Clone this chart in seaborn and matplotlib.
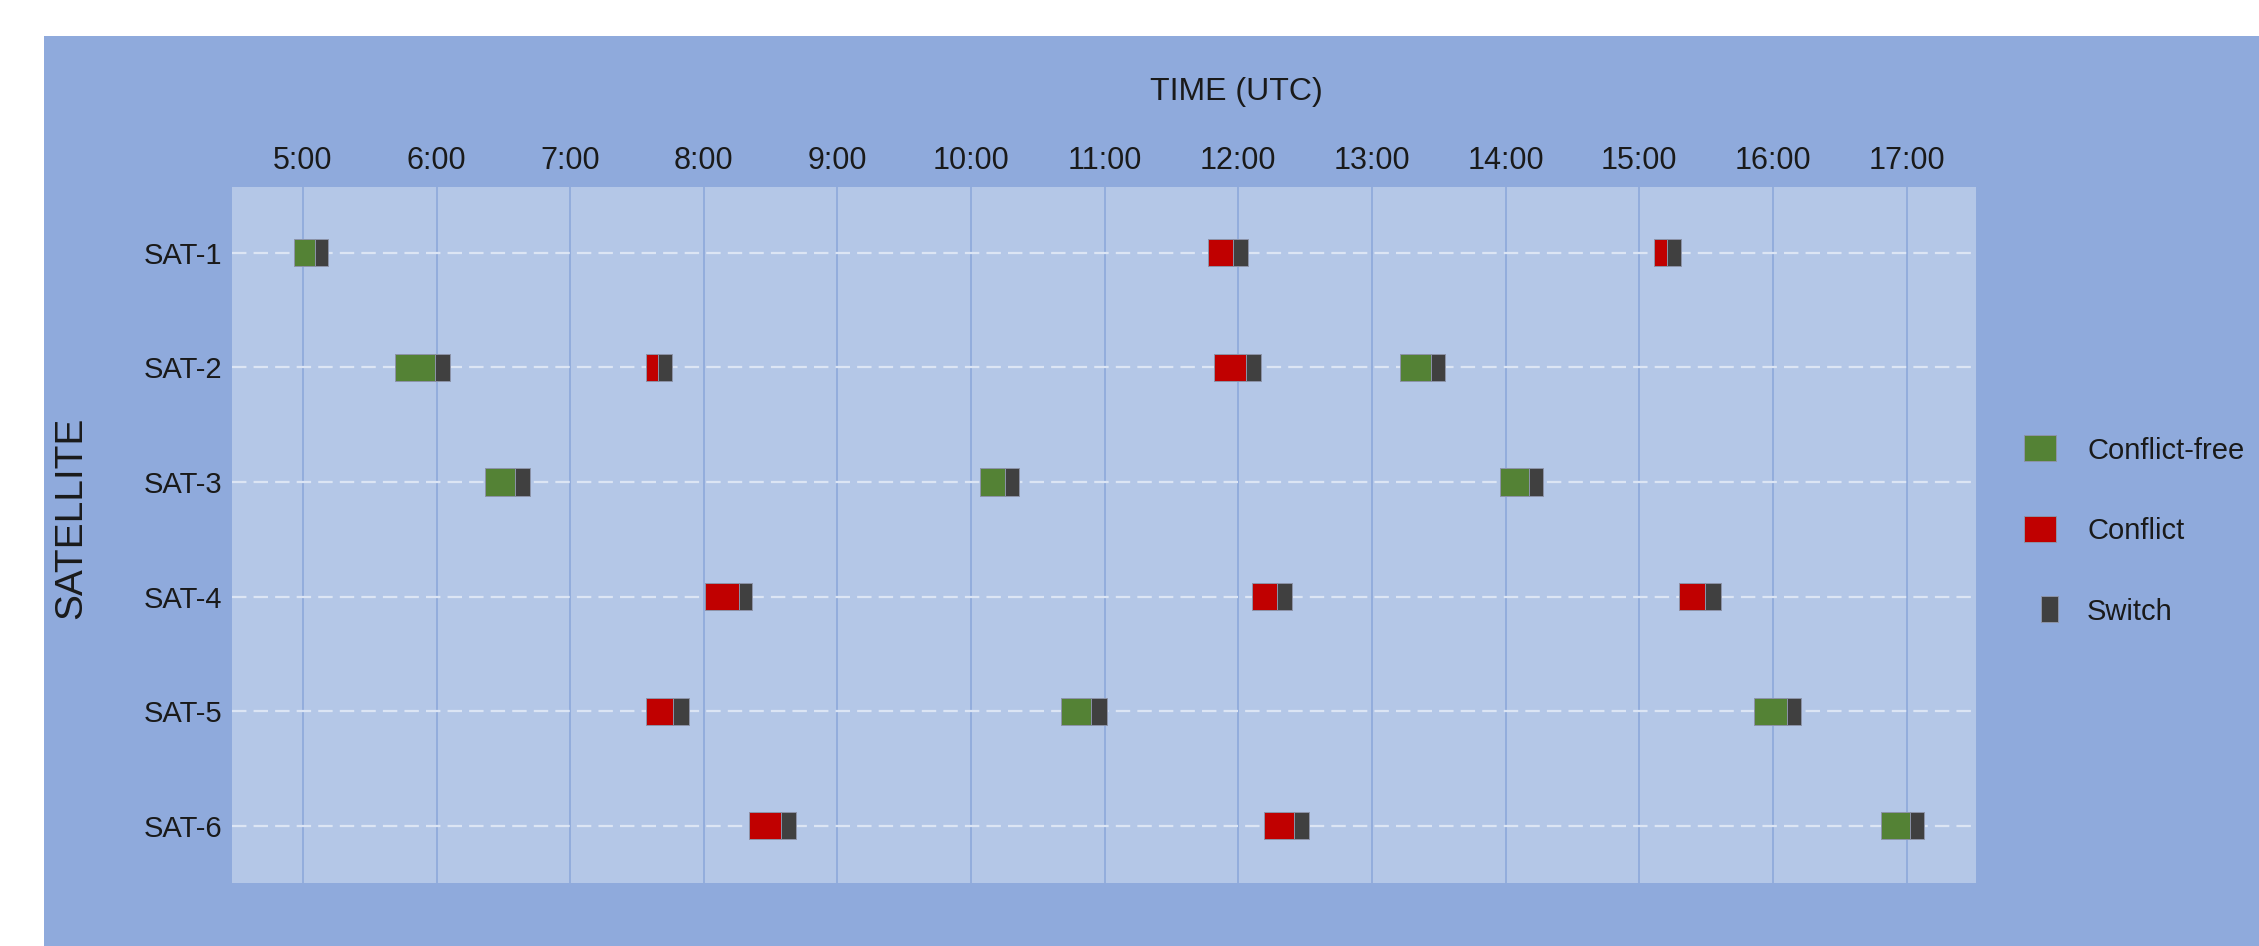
import numpy as np
import matplotlib.pyplot as plt
from matplotlib.lines import Line2D
from matplotlib.patches import Rectangle
import seaborn as sns

# ── Data ────────────────────────────────────────────────────────
satellites = ["SAT-1", "SAT-2", "SAT-3", "SAT-4", "SAT-5", "SAT-6"]
hour_ticks = [5, 6, 7, 8, 9, 10, 11, 12, 13, 14, 15, 16, 17]
hour_labels = ["5:00", "6:00", "7:00", "8:00", "9:00", "10:00", "11:00",
               "12:00", "13:00", "14:00", "15:00", "16:00", "17:00"]

pass_sat = ["SAT-1", "SAT-1", "SAT-1",
            "SAT-2", "SAT-2", "SAT-2", "SAT-2",
            "SAT-3", "SAT-3", "SAT-3",
            "SAT-4", "SAT-4", "SAT-4",
            "SAT-5", "SAT-5", "SAT-5",
            "SAT-6", "SAT-6", "SAT-6"]
pass_start = [4.93, 11.77, 15.11,
              5.69, 7.57, 11.82, 13.21,
              6.36, 10.07, 13.96,
              8.01, 12.105, 15.30,
              7.57, 10.67, 15.86,
              8.34, 12.19, 16.81]
pass_len = [0.16, 0.19, 0.10,
            0.30, 0.09, 0.24, 0.23,
            0.225, 0.18, 0.215,
            0.25, 0.185, 0.19,
            0.20, 0.23, 0.245,
            0.24, 0.23, 0.215]
switch_len = [0.10, 0.11, 0.10,
              0.11, 0.10, 0.11, 0.11,
              0.115, 0.11, 0.105,
              0.10, 0.11, 0.12,
              0.12, 0.12, 0.105,
              0.11, 0.11, 0.105]
pass_status = ["Conflict-free", "Conflict", "Conflict",
               "Conflict-free", "Conflict", "Conflict", "Conflict-free",
               "Conflict-free", "Conflict-free", "Conflict-free",
               "Conflict", "Conflict", "Conflict",
               "Conflict", "Conflict-free", "Conflict-free",
               "Conflict", "Conflict", "Conflict-free"]

# ── Style ───────────────────────────────────────────────────────
COLORS = {
    "Conflict-free": "#548235",
    "Conflict": "#C00000",
    "Switch": "#404040",
    "outer": "#8FAADC",
    "inner": "#B4C7E7",
    "vgrid": "#8DA8DA",
    "hgrid": "#DCE5F4",
    "edge": "#8C93A8",
    "text": "#1A1A1A",
}

sns.set_theme(style="white", rc={"axes.facecolor": COLORS["inner"]})
plt.rcParams["font.family"] = ["Liberation Sans", "DejaVu Sans"]

fig = plt.figure(figsize=(22.59, 9.46), dpi=100, facecolor="white")
fig.patches.append(Rectangle((44 / 2259, 0), 1, 1 - 36 / 946, transform=fig.transFigure,
                             facecolor=COLORS["outer"], edgecolor="none", zorder=-10))
ax = fig.add_axes([232 / 2259, 1 - 883 / 946, (1976 - 232) / 2259, (883 - 187) / 946])

# bars: pass segment followed by the switch segment
sat_pos = {s: i for i, s in enumerate(satellites)}
ypos = np.array([sat_pos[s] for s in pass_sat])
start = np.array(pass_start)
plen = np.array(pass_len)
slen = np.array(switch_len)
bar_h = 0.236

ax.barh(ypos, plen, left=start, height=bar_h,
        color=[COLORS[s] for s in pass_status],
        edgecolor=COLORS["edge"], linewidth=0.7, zorder=3)
ax.barh(ypos, slen, left=start + plen, height=bar_h,
        color=COLORS["Switch"], edgecolor=COLORS["edge"], linewidth=0.7, zorder=3)

ax.set_xlim(4.469, 17.52)
ax.set_ylim(5.5, -0.575)
ax.set_xticks(hour_ticks)
ax.set_xticklabels(hour_labels)
ax.set_yticks(range(len(satellites)))
ax.set_yticklabels(satellites)

ax.xaxis.set_ticks_position("top")
ax.tick_params(axis="x", top=True, labeltop=True, bottom=False, labelbottom=False,
               length=0, pad=8, labelsize=22, labelcolor=COLORS["text"])
ax.tick_params(axis="y", length=0, pad=7, labelsize=21, labelcolor=COLORS["text"])

ax.set_axisbelow(True)
ax.grid(axis="x", color=COLORS["vgrid"], linewidth=1.2)
ax.grid(axis="y", color=COLORS["hgrid"], linewidth=1.6, linestyle=(0, (6.5, 3.2)))
sns.despine(ax=ax, left=True, bottom=True, top=True, right=True)

ax.xaxis.set_label_position("top")
ax.set_xlabel("TIME (UTC)", fontsize=23, color=COLORS["text"], va="center")
ax.xaxis.set_label_coords(0.576, 1 + (187 - 92) / 696)
ax.set_ylabel("SATELLITE", fontsize=28, color=COLORS["text"], va="center")
ax.yaxis.set_label_coords((71.5 - 232) / 1744, 1 - (517.5 - 187) / 696)

# legend
rect_wide = [(-0.6, -0.5), (0.6, -0.5), (0.6, 0.5), (-0.6, 0.5), (-0.6, -0.5)]
rect_thin = [(0.055, -0.5), (0.685, -0.5), (0.685, 0.5), (0.055, 0.5), (0.055, -0.5)]
handles = [
    Line2D([], [], linestyle="none", marker=rect_wide, markersize=23,
           markerfacecolor=COLORS["Conflict-free"], markeredgecolor=COLORS["edge"],
           markeredgewidth=0.7, label="Conflict-free"),
    Line2D([], [], linestyle="none", marker=rect_wide, markersize=23,
           markerfacecolor=COLORS["Conflict"], markeredgecolor=COLORS["edge"],
           markeredgewidth=0.7, label="Conflict"),
    Line2D([], [], linestyle="none", marker=rect_thin, markersize=26.6,
           markerfacecolor=COLORS["Switch"], markeredgecolor=COLORS["edge"],
           markeredgewidth=0.7, label="Switch"),
]
leg = fig.legend(handles=handles, loc="center left",
                 bbox_to_anchor=(2023 / 2259, 1 - 531 / 946),
                 frameon=False, fontsize=21, handlelength=1.2, handletextpad=1.0,
                 labelspacing=1.8, borderpad=0, borderaxespad=0)
for t in leg.get_texts():
    t.set_color(COLORS["text"])

fig.savefig("out.png", dpi=100, facecolor=fig.get_facecolor())
